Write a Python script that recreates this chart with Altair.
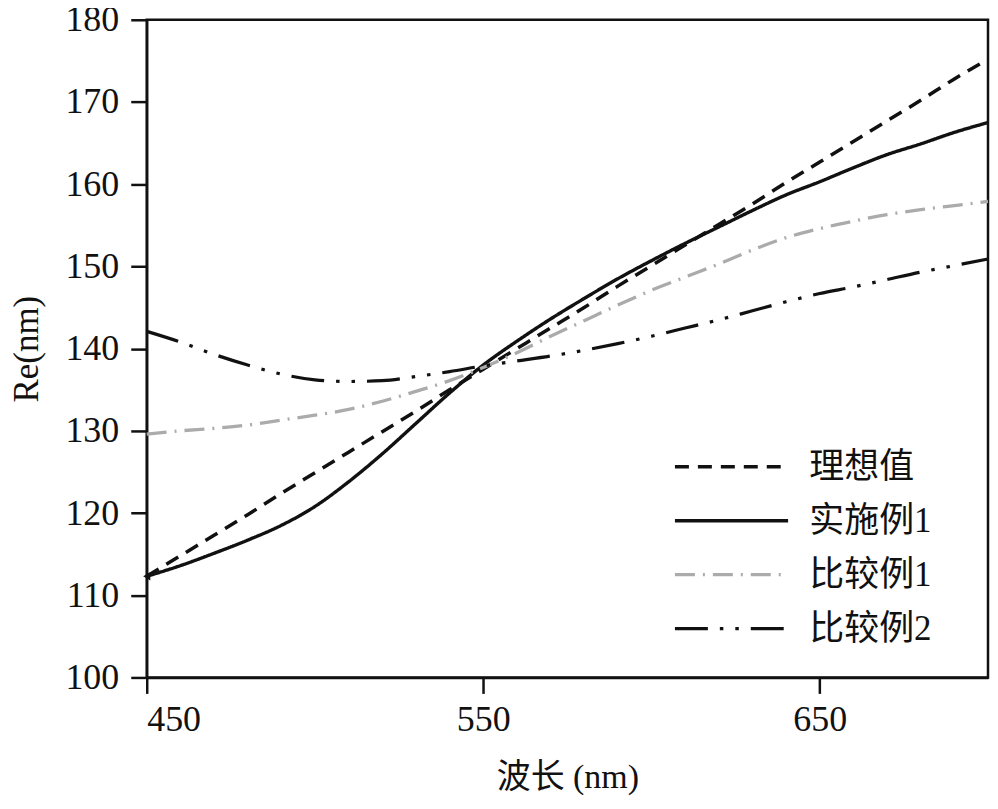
import altair as alt
import pandas as pd

# ---- data ----
wavelength = [450, 460, 470, 480, 490, 500, 510, 520, 530, 540, 550, 560, 570,
              580, 590, 600, 610, 620, 630, 640, 650, 660, 670, 680, 690, 700]

ideal = [112.3, 114.8, 117.3, 119.8, 122.4, 124.9, 127.4, 129.9, 132.4, 135.0,
         137.5, 140.0, 142.5, 145.0, 147.6, 150.1, 152.6, 155.1, 157.6, 160.2,
         162.7, 165.2, 167.7, 170.2, 172.8, 175.2]

example1 = [112.3, 113.6, 115.1, 116.7, 118.5, 120.8, 123.8, 127.2, 130.9, 134.6,
            138.0, 140.9, 143.6, 146.1, 148.5, 150.7, 152.8, 154.8, 156.8, 158.7,
            160.3, 162.0, 163.6, 164.9, 166.3, 167.5]

comparative1 = [129.6, 130.0, 130.3, 130.7, 131.3, 131.9, 132.6, 133.6, 134.8, 136.1,
                137.7, 139.5, 141.5, 143.4, 145.3, 147.1, 148.7, 150.3, 152.0, 153.5,
                154.6, 155.5, 156.3, 156.9, 157.4, 157.9]

comparative2 = [142.1, 140.8, 139.3, 138.0, 136.9, 136.2, 136.0, 136.1, 136.6, 137.2,
                137.9, 138.5, 139.1, 139.8, 140.6, 141.5, 142.5, 143.5, 144.6, 145.7,
                146.7, 147.5, 148.4, 149.3, 150.1, 150.9]

series_names = ["理想值", "实施例1", "比较例1", "比较例2"]
series_colors = ["#111111", "#111111", "#ababab", "#111111"]
series_dash = [[14, 9], [1, 0], [20, 8, 2, 8], [33, 12, 3.5, 12, 3.5, 12]]
series_width = [3.5, 3.2, 1.1, 3.5]

x_ticks = [450, 550, 650]
y_ticks = [100, 110, 120, 130, 140, 150, 160, 170, 180]

# arrowhead at the common start of 理想值 / 实施例1
arrow_x = [450]
arrow_y = [112.3]

rows = []
for name, vals in zip(series_names, [ideal, example1, comparative1, comparative2]):
    for w, v in zip(wavelength, vals):
        rows.append({"wl": w, "re": v, "series": name})
df = pd.DataFrame(rows)
arrow_df = pd.DataFrame({"wl": arrow_x, "re": arrow_y})

FONT = "Liberation Serif, Noto Sans CJK SC"

x_enc = alt.X(
    "wl:Q",
    scale=alt.Scale(domain=[450, 700], nice=False, zero=False),
    axis=alt.Axis(
        values=x_ticks, title="波长 (nm)", format="d",
        titleX=421.5, titleY=100, titleBaseline="middle", titleAlign="center",
        titleFontSize=34, titleFontWeight="normal",
        labelPadding=9,
    ),
)
y_enc = alt.Y(
    "re:Q",
    scale=alt.Scale(domain=[100, 180], nice=False, zero=False),
    axis=alt.Axis(
        values=y_ticks, title="Re(nm)", format="d",
        titleX=-120, titleY=329.5, titleAngle=270,
        titleBaseline="middle", titleAlign="center",
        titleFontSize=35, titleFontWeight="normal",
        labelPadding=12,
    ),
)

# long horizontal legend stroke: custom path twice as wide as the unit symbol
LEGEND_PATH = "M-2.1,0L2.1,0"

lines = alt.Chart(df).mark_line(interpolate="monotone", strokeCap="butt").encode(
    x=x_enc,
    y=y_enc,
    color=alt.Color("series:N",
                    scale=alt.Scale(domain=series_names, range=series_colors),
                    legend=alt.Legend(
                        title=None, orient="none", legendX=557, legendY=419,
                        symbolType=LEGEND_PATH, symbolSize=2916,
                        rowPadding=7, labelOffset=49, padding=0,
                        labelFont=FONT, labelFontSize=35, labelColor="#111111",
                        labelLimit=400,
                    )),
    strokeDash=alt.StrokeDash("series:N",
                              scale=alt.Scale(domain=series_names, range=series_dash)),
    strokeWidth=alt.StrokeWidth("series:N",
                                scale=alt.Scale(domain=series_names, range=series_width)),
    order=alt.Order("wl:Q"),
)

arrows = alt.Chart(arrow_df).mark_point(
    shape="triangle-left", filled=True, color="#111111", size=70, opacity=1
).encode(x="wl:Q", y="re:Q")

chart = alt.layer(lines, arrows).properties(
    width=843,
    height=659,
    autosize=alt.AutoSizeParams(type="none"),
    padding={"left": 139, "top": 11, "right": 2, "bottom": 118},
).configure_view(
    stroke="#111111", strokeWidth=2.5
).configure_axis(
    grid=False,
    domainColor="#111111", domainWidth=2.5,
    tickColor="#111111", tickWidth=2.5, tickSize=16,
    labelFont=FONT, labelFontSize=36, labelColor="#111111",
    titleFont=FONT, titleColor="#111111",
).configure_legend(
    symbolStrokeColor="#111111"
)

chart.save("out.html", embed_options={"renderer": "svg", "actions": False})
